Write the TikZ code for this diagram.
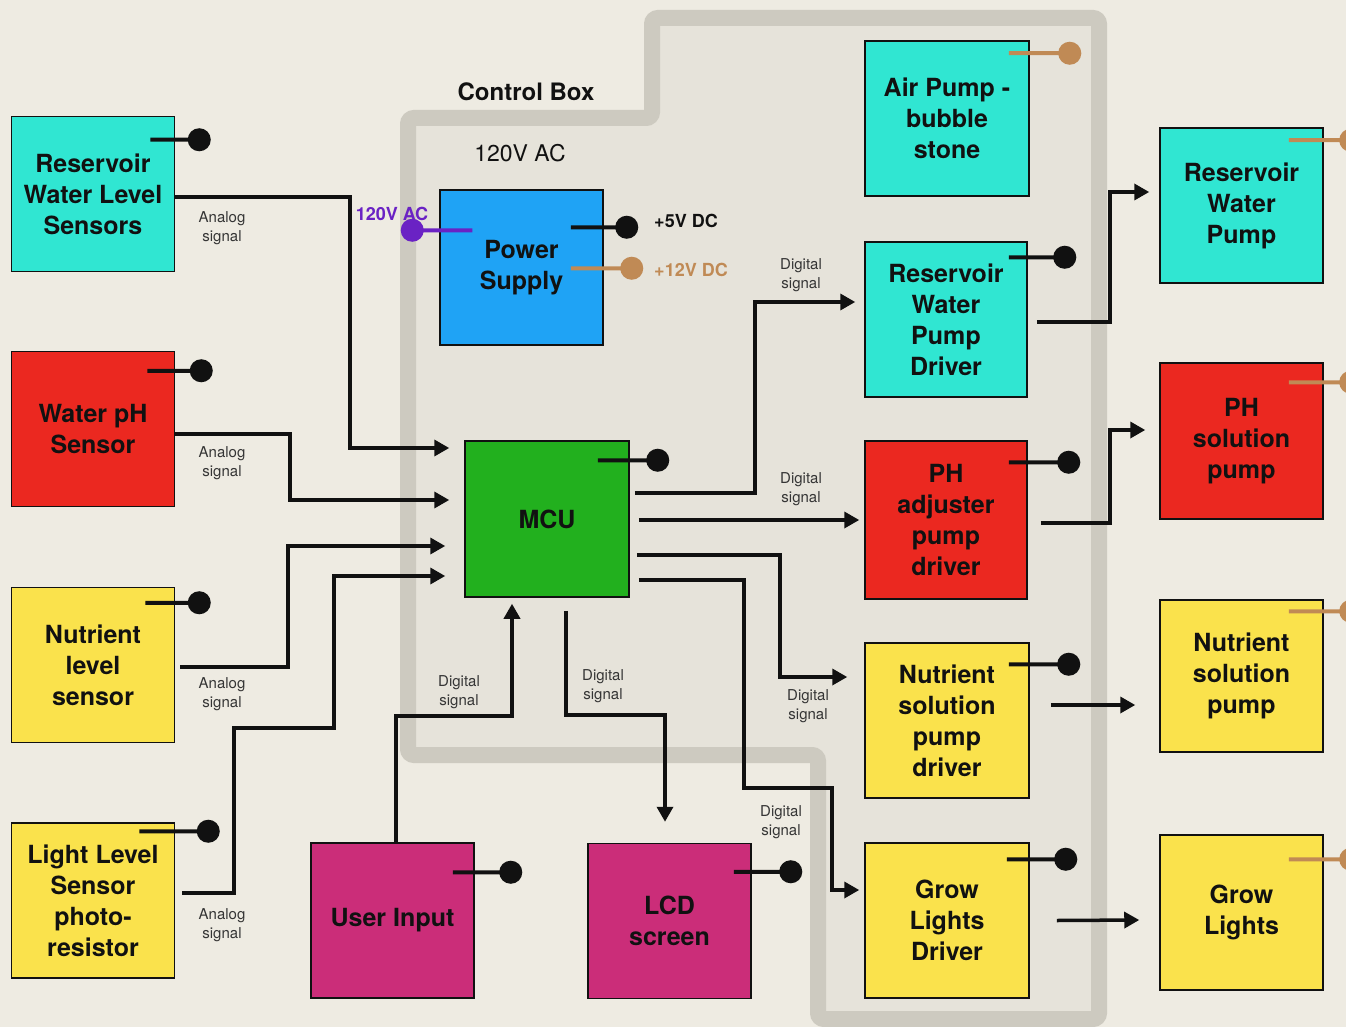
\documentclass[tikz,border=0pt]{standalone}
\usepackage{fontspec}
\setmainfont{TeX Gyre Heros}
\usetikzlibrary{arrows.meta}
\definecolor{bg}{HTML}{EEEBE2}
\definecolor{boxin}{HTML}{E6E3DA}
\definecolor{band}{HTML}{CDCAC0}
\definecolor{ccyan}{HTML}{30E6D2}
\definecolor{cred}{HTML}{EB2820}
\definecolor{cyellow}{HTML}{FAE24C}
\definecolor{cblue}{HTML}{1FA3F5}
\definecolor{cgreen}{HTML}{22B01E}
\definecolor{cmag}{HTML}{CB2D79}
\definecolor{cbrown}{HTML}{C08A55}
\definecolor{cpurple}{HTML}{6A22C4}
\definecolor{ink}{HTML}{111111}
\begin{document}
\begin{tikzpicture}[x=1pt,y=-1pt,
  blk/.style={draw=ink, line width=1.5pt, minimum width=163pt, minimum height=155pt,
    inner sep=0pt, align=center, text=ink,
    font=\fontsize{25}{31}\selectfont\bfseries},
  small/.style={align=center, text=ink!85, font=\fontsize{15}{19}\selectfont, inner sep=0pt},
  stub/.style={line width=4pt, ink},
  bstub/.style={line width=4pt, cbrown},
  conn/.style={line width=3.5pt, ink, -{Triangle[length=15pt,width=16pt]}},
  plain/.style={line width=3.5pt, ink}
]
\useasboundingbox (0,0) rectangle (1346,1027);
\fill[bg] (0,0) rectangle (1346,1027);
% control box
\draw[band, line width=16pt, fill=boxin, rounded corners=6pt]
  (408,118) -- (652,118) -- (652,18) -- (1099,18) -- (1099,1019) -- (818,1019) -- (818,755) -- (408,755) -- cycle;
\node[font=\fontsize{24}{28}\selectfont\bfseries, text=ink] (cb) at (526,92) {Control Box};
\node[font=\fontsize{23}{28}\selectfont, text=ink] (ac) at (520,153) {120V AC};

% blocks
\node[blk, fill=ccyan] (rwls) at (93,194) {Reservoir\\Water Level\\Sensors};
\node[blk, fill=cred] (ph) at (93,429) {Water pH\\Sensor};
\node[blk, fill=cyellow] (nl) at (93,665) {Nutrient\\level\\sensor};
\node[blk, fill=cyellow] (light) at (93,900.5) {Light Level\\Sensor\\photo-\\resistor};
\node[blk, fill=cblue] (ps) at (521.5,267.5) {Power\\Supply};
\node[blk, fill=cgreen, minimum width=164pt, minimum height=156pt] (mcu) at (547,519) {MCU};
\node[blk, fill=cmag] (user) at (392.5,920.5) {User Input};
\node[blk, fill=cmag] (lcd) at (669.5,921) {LCD\\screen};
\node[blk, fill=ccyan, minimum width=164pt] (air) at (947,118.5) {Air Pump -\\bubble\\stone};
\node[blk, fill=ccyan, minimum width=162pt] (rwpd) at (946,319.5) {Reservoir\\Water\\Pump\\Driver};
\node[blk, fill=cred, minimum width=162pt, minimum height=158pt] (phd) at (946,520) {PH\\adjuster\\pump\\driver};
\node[blk, fill=cyellow, minimum width=164pt] (nd) at (947,720.5) {Nutrient\\solution\\pump\\driver};
\node[blk, fill=cyellow, minimum width=164pt] (gd) at (947,920.5) {Grow\\Lights\\Driver};
\node[blk, fill=ccyan] (rwp) at (1241.5,205.5) {Reservoir\\Water\\Pump};
\node[blk, fill=cred, minimum height=156pt] (php) at (1241.5,441) {PH\\solution\\pump};
\node[blk, fill=cyellow, minimum height=152pt] (nsp) at (1241.5,676) {Nutrient\\solution\\pump};
\node[blk, fill=cyellow] (gl) at (1241.5,912.5) {Grow\\Lights};

% power stubs
\filldraw[stub] (rwls.north east) ++(-25,24) -- ++(49,0) circle[radius=9.5pt];
\filldraw[stub] (ph.north east) ++(-28,20) -- ++(54,0) circle[radius=9.5pt];
\filldraw[stub] (nl.north east) ++(-30,16) -- ++(54,0) circle[radius=9.5pt];
\filldraw[stub] (light.north east) ++(-36,9) -- ++(69,0) circle[radius=9.5pt];
\filldraw[stub] (ps.north east) ++(-33,38) -- ++(56,0) circle[radius=9.5pt];
\filldraw[bstub] (ps.north east) ++(-33,79) -- ++(61,0) circle[radius=9.5pt];
\filldraw[stub] (mcu.north east) ++(-32,20) -- ++(60,0) circle[radius=9.5pt];
\filldraw[stub] (user.north east) ++(-22,30) -- ++(58,0) circle[radius=9.5pt];
\filldraw[stub] (lcd.north east) ++(-18,29) -- ++(57,0) circle[radius=9.5pt];
\filldraw[bstub] (air.north east) ++(-21,13) -- ++(61,0) circle[radius=9.5pt];
\filldraw[stub] (rwpd.north east) ++(-19,16) -- ++(56,0) circle[radius=9.5pt];
\filldraw[stub] (phd.north east) ++(-19,22) -- ++(60,0) circle[radius=9.5pt];
\filldraw[stub] (nd.north east) ++(-21,22) -- ++(60,0) circle[radius=9.5pt];
\filldraw[stub] (gd.north east) ++(-23,17) -- ++(59,0) circle[radius=9.5pt];
\filldraw[bstub] (rwp.north east) ++(-35,13) -- ++(62,0) circle[radius=9.5pt];
\filldraw[bstub] (php.north east) ++(-35,20) -- ++(62,0) circle[radius=9.5pt];
\filldraw[bstub] (nsp.north east) ++(-35,12) -- ++(62,0) circle[radius=9.5pt];
\filldraw[bstub] (gl.north east) ++(-35,25) -- ++(62,0) circle[radius=9.5pt];
% purple AC input
\filldraw[line width=4pt, cpurple] (ps.north west) ++(33,41) -- ++(-60,0) circle[radius=9.5pt];
\node[font=\fontsize{18}{22}\selectfont\bfseries, text=cpurple] (acin) at (392,214) {120V AC};
\node[font=\fontsize{18}{22}\selectfont\bfseries, text=ink] (v5) at (686,221) {+5V DC};
\node[font=\fontsize{18}{22}\selectfont\bfseries, text=cbrown] (v12) at (691,270) {+12V DC};

% sensor inputs
\draw[conn] ([yshift=-3pt]rwls.east) -| (350,448) -- ([xshift=-15pt,yshift=71pt]mcu.west);
\draw[conn] ([yshift=-5pt]ph.east) -| (290,500) -- ([xshift=-15pt,yshift=19pt]mcu.west);
\draw[conn] ([xshift=5pt,yshift=-2pt]nl.east) -| (288,546) -- ([xshift=-19pt,yshift=-27pt]mcu.west);
\draw[conn] ([xshift=7pt,yshift=7.5pt]light.east) -| (234,728) -| (334,576) -- ([xshift=-19pt,yshift=-57pt]mcu.west);
\draw[conn] ([xshift=3.5pt]user.north) |- (512,716) -- ([xshift=-35pt,yshift=-6pt]mcu.south);
\draw[conn] ([xshift=19pt,yshift=-13pt]mcu.south) |- (665,715) -- ([xshift=-4.5pt,yshift=21pt]lcd.north);
% MCU outputs
\draw[conn] ([xshift=5pt,yshift=26pt]mcu.east) -| (755,302) -- ([xshift=-9pt,yshift=17.5pt]rwpd.west);
\draw[conn] ([xshift=9pt,yshift=-1pt]mcu.east) -- ([xshift=-5pt]phd.west);
\draw[conn] ([xshift=7pt,yshift=-36pt]mcu.east) -| (780,677) -- ([xshift=-17pt,yshift=43.5pt]nd.west);
\draw[conn] ([xshift=9pt,yshift=-61pt]mcu.east) -| (744,788) -| (832,890) -- ([xshift=-5pt,yshift=30.5pt]gd.west);
% driver outputs
\draw[conn] ([xshift=9pt,yshift=-2.5pt]rwpd.east) -| (1110,192) -- ([xshift=-10pt,yshift=13.5pt]rwp.west);
\draw[conn] ([xshift=13pt,yshift=-3pt]phd.east) -| (1110,430) -- ([xshift=-14pt,yshift=11pt]php.west);
\draw[conn] ([xshift=21pt,yshift=15.5pt]nd.east) -- ([xshift=-24pt,yshift=-29pt]nsp.west);
\draw[conn] ([xshift=27pt,yshift=0pt]gd.east) -- ([xshift=-20pt,yshift=-7.5pt]gl.west);

% signal labels
\node[small] (a1) at (222,228) {Analog\\signal};
\node[small] (a2) at (222,463) {Analog\\signal};
\node[small] (a3) at (222,694) {Analog\\signal};
\node[small] (a4) at (222,925) {Analog\\signal};
\node[small] (d1) at (801,275) {Digital\\signal};
\node[small] (d2) at (801,489) {Digital\\signal};
\node[small] (d3) at (459,692) {Digital\\signal};
\node[small] (d4) at (603,686) {Digital\\signal};
\node[small] (d5) at (808,706) {Digital\\signal};
\node[small] (d6) at (781,822) {Digital\\signal};
\end{tikzpicture}
\end{document}
